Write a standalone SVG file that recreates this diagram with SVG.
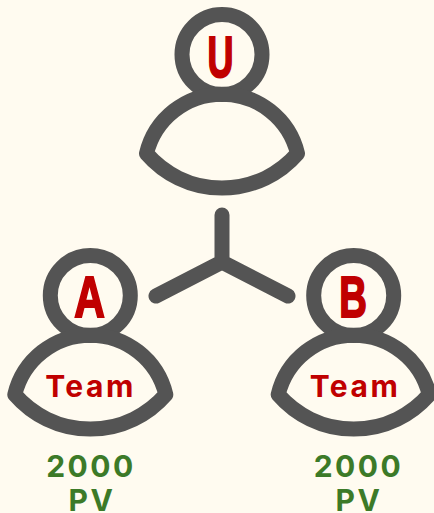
<svg xmlns="http://www.w3.org/2000/svg" width="434" height="513" viewBox="0 0 434 513">
<style>
.s{fill:none;stroke:#545454;stroke-width:15;stroke-linecap:round;stroke-linejoin:round}
.l{font-family:"Liberation Sans",Arial,sans-serif;font-weight:700;font-size:58px;fill:#c00000;stroke:#c00000;stroke-width:2px;text-anchor:middle}
.t{font-family:Inter,"Liberation Sans",sans-serif;font-weight:700;font-size:30px;letter-spacing:2.500px;fill:#c00000;text-anchor:middle}
.p{font-family:Inter,"Liberation Sans",sans-serif;font-weight:700;font-size:30px;letter-spacing:2.500px;fill:#3c7a28;text-anchor:middle}
</style>
<defs>
<g id="person">
<circle class="s" cx="0" cy="0" r="40"/>
<path class="s" d="M-75.500,99 A77.700,77.700 0 0 1 75.500,99 A99.700,99.700 0 0 1 -75.500,99 Z"/>
</g>
</defs>
<rect width="434" height="513" fill="#fffbf0"/>
<g id="connectors">
<path class="s" d="M222,215V262M222,262L156,296M222,262L288,296"/>
</g>
<g id="node-u">
<use href="#person" x="222" y="54.500"/>
<text class="l" transform="translate(220.500 76.500) scale(.62 1)">U</text>
</g>
<g id="node-a">
<use href="#person" x="90.300" y="295.500"/>
<text class="l" transform="translate(89.500 316.500) scale(.73 1)">A</text>
<text class="t" x="90.500" y="397">Team</text>
<text class="p" x="91" y="477">2000</text>
<text class="p" x="92" y="510.500">PV</text>
</g>
<g id="node-b">
<use href="#person" x="353.700" y="295.500"/>
<text class="l" transform="translate(353 316.500) scale(.66 1)">B</text>
<text class="t" x="355" y="397">Team</text>
<text class="p" x="358.500" y="477">2000</text>
<text class="p" x="359" y="510.500">PV</text>
</g>
</svg>
